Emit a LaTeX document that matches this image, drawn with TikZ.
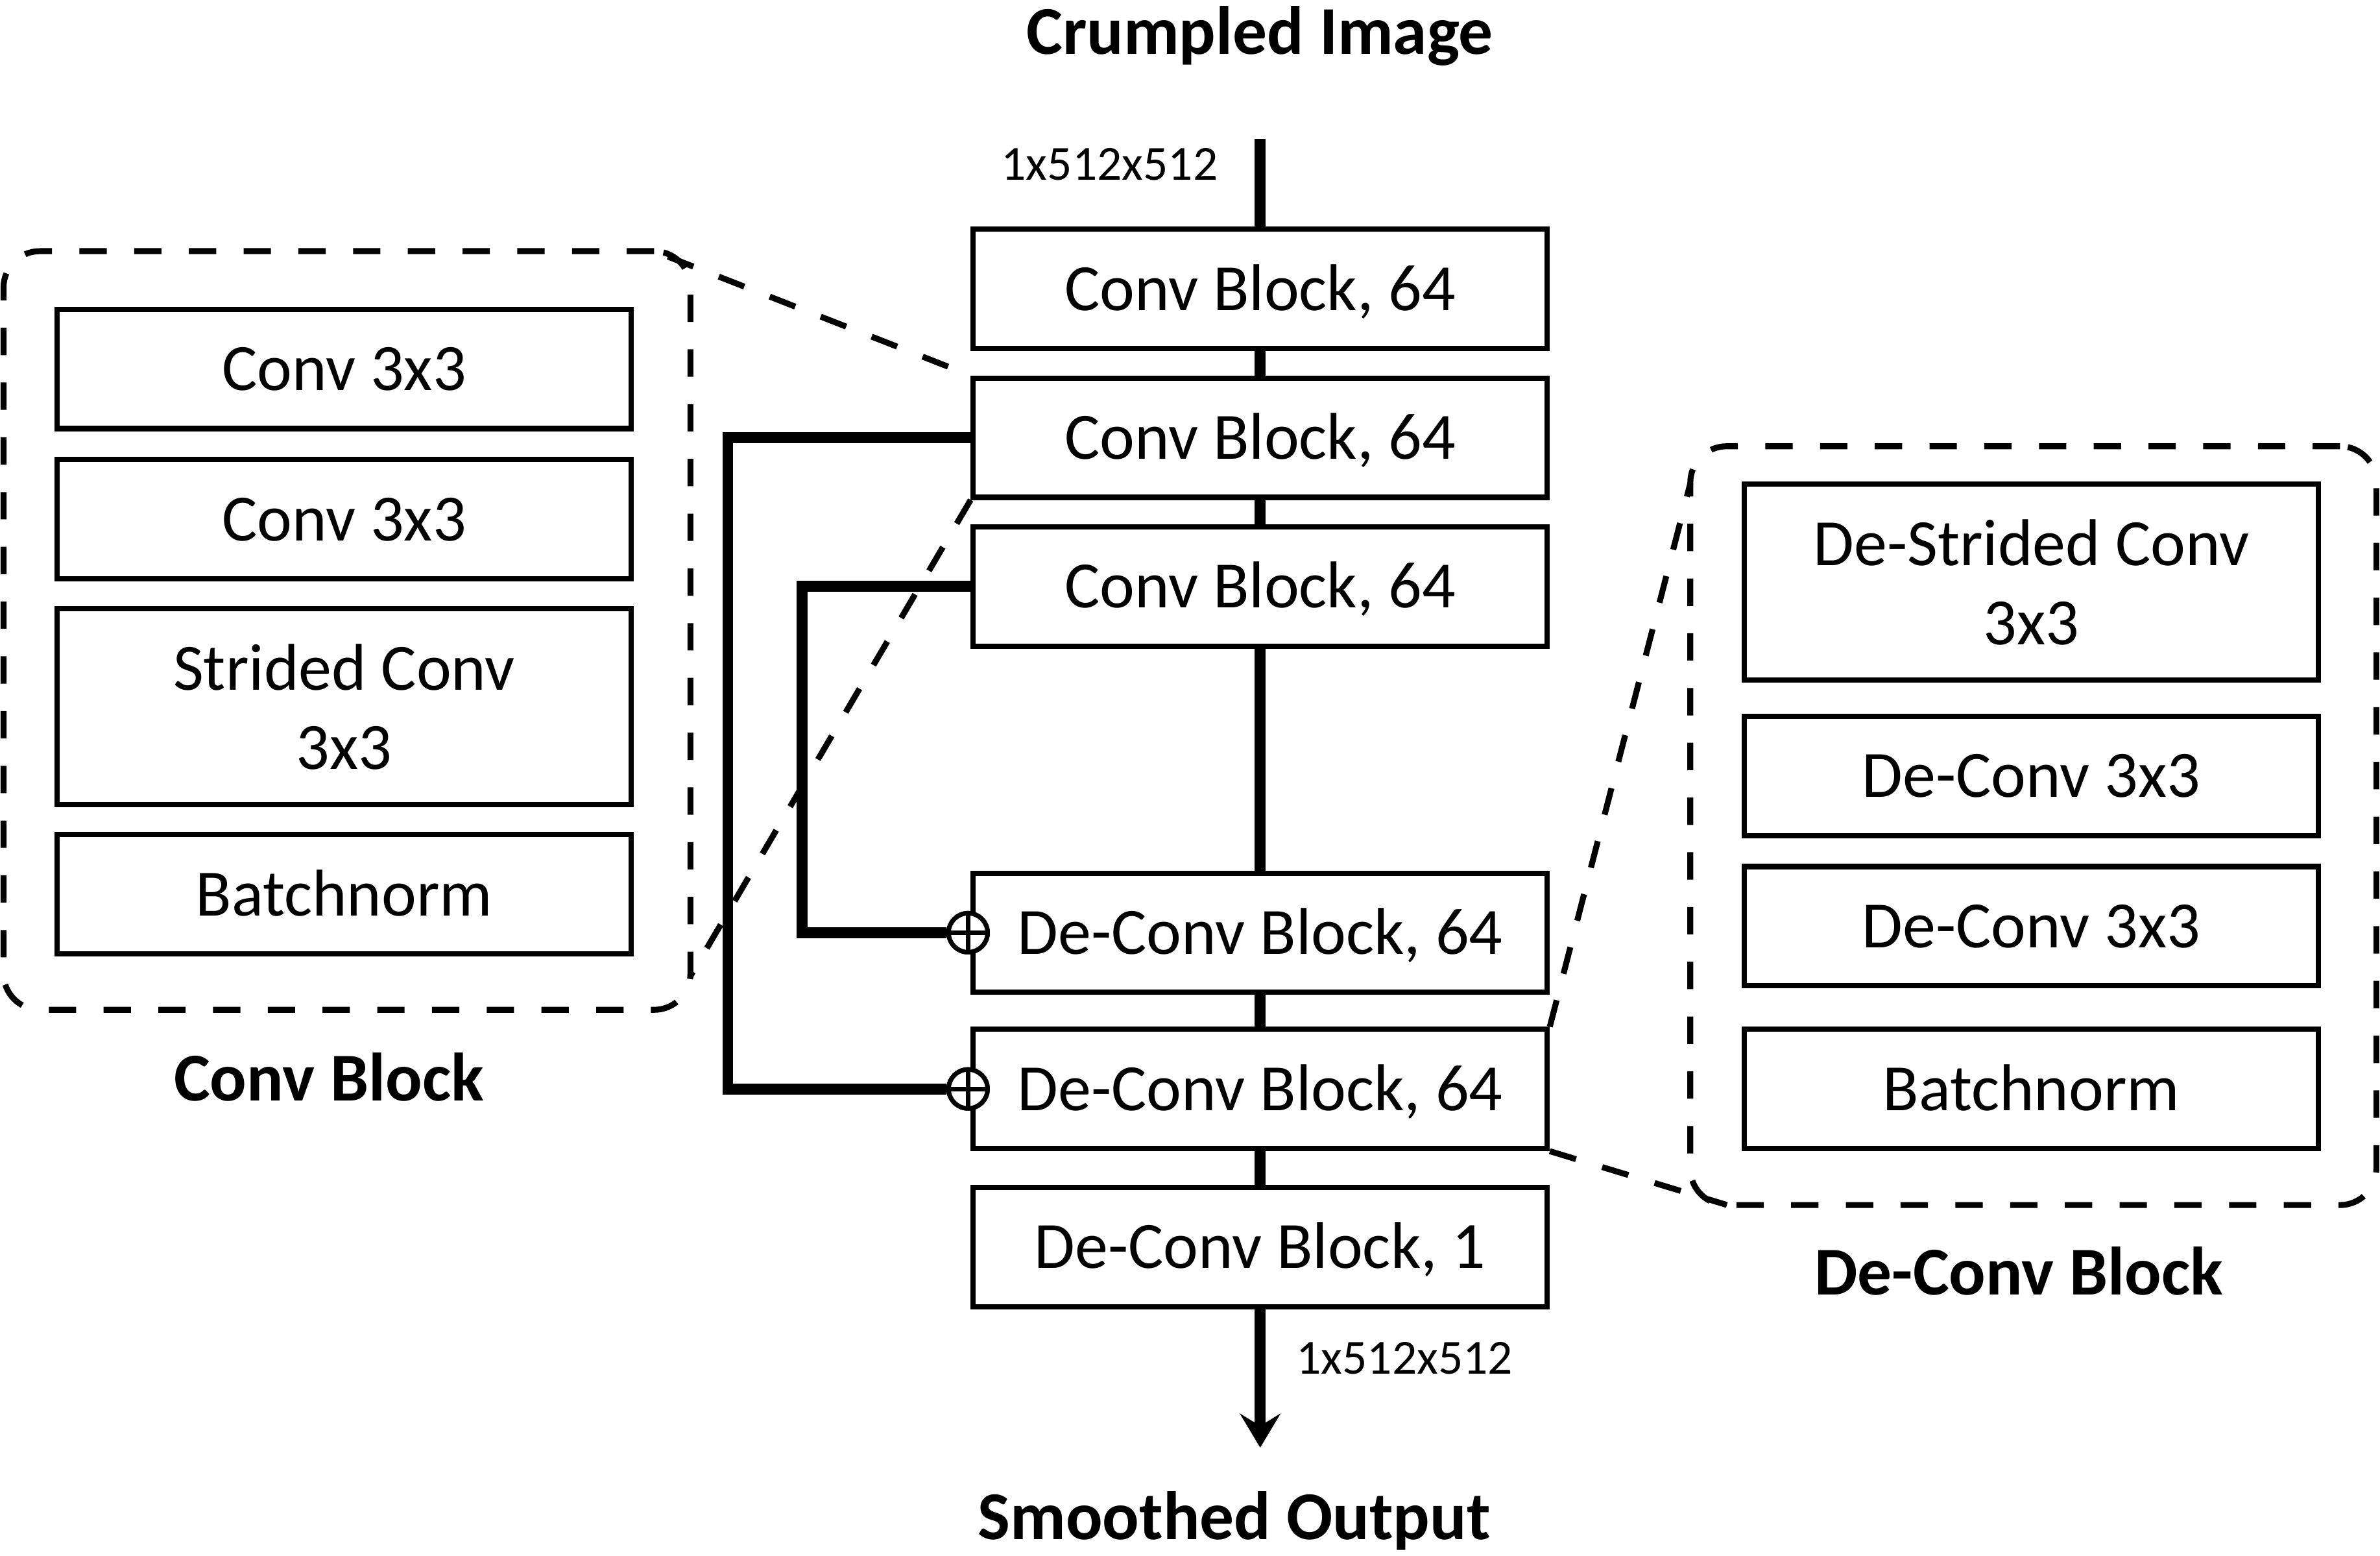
\documentclass[tikz,border=0pt]{standalone}
\usepackage{fontspec}
\setmainfont{Carlito}
\usetikzlibrary{arrows.meta}
\begin{document}
\begin{tikzpicture}[x=0.0233992cm, y=-0.0233992cm,
  boxbase/.style={draw, line width=2.3pt, inner sep=0pt, minimum width=8.845cm, font=\fontsize{29}{34.7}\selectfont},
  oneline/.style={boxbase, minimum height=1.837cm, text height=18.7pt, text depth=0pt},
  twoline/.style={boxbase, minimum height=3.0185cm, align=center},
  region/.style={draw, line width=2.6pt, dash pattern=on 12pt off 12pt, rounded corners=0.56cm, inner sep=0pt},
  conn/.style={line width=4.8pt},
  zoomline/.style={line width=2.6pt, dash pattern=on 12pt off 12pt},
  title/.style={anchor=base, inner sep=0pt, font=\fontsize{30}{36}\selectfont\bfseries},
  dimlabel/.style={anchor=base, inner sep=0pt, font=\fontsize{21.5}{26}\selectfont},
  sum/.style={circle, draw, fill=white, line width=2pt, minimum size=0.6cm, inner sep=0pt,
    path picture={\draw[line width=2pt] (path picture bounding box.north) -- (path picture bounding box.south)
      (path picture bounding box.west) -- (path picture bounding box.east);}}
]
\useasboundingbox (0,0) rectangle (1568,1024.4);

% dashed regions
\node[region, minimum width=10.586cm, minimum height=11.688cm] (lreg) at (228.6,415.25) {};
\node[region, minimum width=10.572cm, minimum height=11.690cm] (rreg) at (1339.6,543.8) {};

% main column
\node[oneline] (b1) at (830.25,190.25) {Conv Block, 64};
\node[oneline] (b2) at (830.25,288.3) {Conv Block, 64};
\node[oneline] (b3) at (830.25,386.25) {Conv Block, 64};
\node[oneline] (b4) at (830.25,614.3) {De-Conv Block, 64};
\node[oneline] (b5) at (830.25,717.2) {De-Conv Block, 64};
\node[oneline] (b6) at (830.25,821.25) {De-Conv Block, 1};

% conv block detail
\node[oneline] (c1) at (226.75,243) {Conv 3x3};
\node[oneline] (c2) at (226.75,342) {Conv 3x3};
\node[twoline] (c3) at (226.75,465.5) {Strided Conv\\3x3};
\node[oneline] (c4) at (226.75,589) {Batchnorm};

% de-conv block detail
\node[twoline] (d1) at (1338.25,383.5) {De-Strided Conv\\3x3};
\node[oneline] (d2) at (1338.25,511) {De-Conv 3x3};
\node[oneline] (d3) at (1338.25,610) {De-Conv 3x3};
\node[oneline] (d4) at (1338.25,717.2) {Batchnorm};

% titles and labels
\node[title] (tin) at (830,35.6) {Crumpled Image};
\node[title] (tout) at (813,1013.7) {Smoothed Output};
\node[title] (tconv) at (216.7,725) {Conv Block};
\node[title] (tdeconv) at (1330,852.6) {De-Conv Block};
\node[dimlabel] (din) at (731,118.4) {1x512x512};
\node[dimlabel] (dout) at (925.4,905) {1x512x512};

% main connectors
\coordinate (inp) at (830.25,91.5);
\coordinate (outp) at (830.25,953.4);
\draw[conn] (inp) -- (b1.north);
\draw[conn] (b1.south) -- (b2.north);
\draw[conn] (b2.south) -- (b3.north);
\draw[conn] (b3.south) -- (b4.north);
\draw[conn] (b4.south) -- (b5.north);
\draw[conn] (b5.south) -- (b6.north);
\draw[conn, -{Stealth[length=15pt, width=18pt, inset=5.5pt, line width=0pt]}] (b6.south) -- (outp);

% skip connections
\node[sum] (s1) at (637.8,614.3) {};
\node[sum] (s2) at (637.8,717.2) {};
\draw[conn] (b2.west) -| (479.5,717.2) -- (s2);
\draw[conn] (b3.west) -| (528.6,614.3) -- (s1);
\node[sum] at (s1) {};
\node[sum] at (s2) {};

% zoom lines
\coordinate (lTR) at (440,169);
\coordinate (lBR) at (454.8,643);
\coordinate (rTL) at (1113.7,318);
\coordinate (rBL) at (1137.7,793.6);
\draw[zoomline] (lTR) -- (b2.north west);
\draw[zoomline] (b2.south west) -- (lBR);
\draw[zoomline] (b5.north east) -- (rTL);
\draw[zoomline] (b5.south east) -- (rBL);
\end{tikzpicture}
\end{document}
